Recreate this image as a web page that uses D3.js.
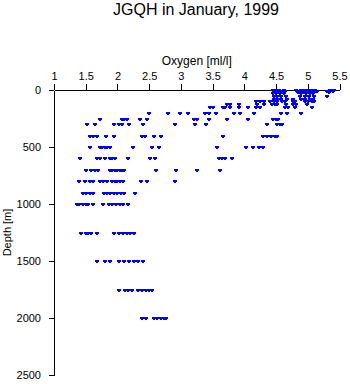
<!DOCTYPE html>
<html>
<head>
<meta charset="utf-8">
<script src="https://cdn.jsdelivr.net/npm/d3@7"></script>
<style>
  html, body { margin: 0; padding: 0; background: #fff; }
  svg { display: block; font-family: "Liberation Sans", Arial, sans-serif; }
</style>
</head>
<body>
<svg id="chart" width="350" height="384"></svg>
<script>
// ---- data ----
const title = "JGQH in January, 1999";
const xLabel = "Oxygen [ml/l]";
const yLabel = "Depth [m]";
const xTicks = [1, 1.5, 2, 2.5, 3, 3.5, 4, 4.5, 5, 5.5];
const yTicks = [0, 500, 1000, 1500, 2000, 2500];

const depthLevels = [0, 10, 20, 30, 50, 75, 100, 125, 150, 200, 250, 300, 400,
                     500, 600, 700, 800, 900, 1000, 1250, 1500, 1750, 2000];
const oxygenAtLevel = [
  [4.45, 4.50, 4.55, 4.62, 4.82, 4.90, 4.95, 5.00, 5.05, 5.12, 5.35, 5.42],
  [4.47, 4.52, 4.58, 4.64, 4.88, 4.93, 5.02, 5.08, 5.15, 5.30, 5.40],
  [4.46, 4.53, 4.60, 4.85, 4.92, 4.98, 5.05, 5.10, 5.33],
  [4.45, 4.50, 4.56, 4.62, 4.90, 4.97, 5.03, 5.09],
  [4.46, 4.52, 4.58, 4.66, 4.88, 4.95, 5.02, 5.10, 5.31],
  [4.47, 4.52, 4.58, 4.67, 4.76, 4.90, 4.96, 5.03, 5.08],
  [4.19, 4.24, 4.31, 4.41, 4.46, 4.52, 4.60, 4.64, 4.76, 4.80, 4.95, 5.00, 5.06, 5.10],
  [3.72, 3.77, 3.92, 4.20, 4.31, 4.44, 4.48, 4.52, 4.65, 4.77, 4.81, 4.98],
  [3.46, 3.50, 3.67, 3.70, 3.77, 3.92, 4.05, 4.19, 4.24, 4.64, 4.69, 4.80, 5.06],
  [2.49, 2.79, 2.99, 3.11, 3.38, 3.44, 3.55, 3.83, 3.93, 4.15, 4.58, 4.67, 4.90],
  [1.73, 2.07, 2.11, 2.15, 2.36, 2.47, 3.21, 3.25, 3.45, 3.73, 4.06, 4.45, 4.50, 4.53],
  [1.52, 1.64, 1.94, 2.03, 2.07, 2.19, 2.41, 2.91, 3.22, 3.40, 4.36, 4.52, 4.56, 4.59],
  [1.57, 1.61, 1.68, 1.82, 1.94, 2.38, 2.44, 2.58, 2.69, 3.66, 4.30, 4.36, 4.42, 4.48, 4.51],
  [1.57, 1.72, 1.76, 1.80, 1.83, 1.88, 2.24, 2.54, 2.65, 3.57, 4.03, 4.13, 4.23, 4.30],
  [1.41, 1.67, 1.73, 1.81, 1.88, 1.92, 1.96, 2.16, 2.51, 2.59, 3.60, 3.65, 3.70, 3.81],
  [1.51, 1.58, 1.64, 1.70, 1.88, 1.92, 1.96, 2.00, 2.04, 2.07, 2.11, 2.61, 2.92, 3.25, 3.61],
  [1.40, 1.49, 1.56, 1.62, 1.72, 1.77, 1.83, 1.92, 1.96, 2.00, 2.04, 2.08, 2.37, 2.46, 2.91],
  [1.45, 1.50, 1.56, 1.61, 1.79, 1.84, 1.89, 1.95, 2.00, 2.05, 2.10, 2.28],
  [1.36, 1.40, 1.45, 1.50, 1.54, 1.61, 1.77, 1.86, 1.92, 1.97, 2.04, 2.09, 2.17],
  [1.42, 1.50, 1.54, 1.58, 1.68, 1.94, 2.03, 2.09, 2.15, 2.20, 2.26],
  [1.68, 1.80, 1.88, 2.03, 2.11, 2.19, 2.26, 2.33, 2.40],
  [2.03, 2.12, 2.17, 2.23, 2.33, 2.39, 2.45, 2.50, 2.55],
  [2.39, 2.45, 2.58, 2.63, 2.68, 2.73, 2.76]
];

// ---- chart ----
const svg = d3.select("#chart");
const x = d3.scaleLinear().domain([1, 5.5]).range([54, 339.5]);
const y = d3.scaleLinear().domain([0, 2500]).range([90, 375]);

const points = [];
depthLevels.forEach((d, i) => oxygenAtLevel[i].forEach(o => points.push({depth: d, oxygen: o})));

// title
svg.append("text")
  .attr("x", 196).attr("y", 15)
  .attr("text-anchor", "middle")
  .attr("font-size", 16)
  .text(title);

// x axis on top
const gx = svg.append("g")
  .attr("transform", `translate(0,${y(0)})`)
  .call(d3.axisTop(x).tickValues(xTicks).tickSize(6).tickSizeOuter(0).tickPadding(4)
        .tickFormat(d3.format("~g")));
gx.selectAll("text").attr("font-size", 11).attr("font-family", "Liberation Sans, Arial, sans-serif").attr("fill", "#000");
gx.selectAll("line, path").attr("stroke", "#000").attr("stroke-width", 1).attr("shape-rendering", "crispEdges");

svg.append("text")
  .attr("x", (x(1) + x(5.5)) / 2).attr("y", 65)
  .attr("text-anchor", "middle")
  .attr("font-size", 12)
  .text(xLabel);

// y axis
const gy = svg.append("g")
  .attr("transform", `translate(${x(1)},0)`)
  .call(d3.axisLeft(y).tickValues(yTicks).tickSize(5).tickSizeOuter(0).tickPadding(8)
        .tickFormat(d3.format("d")));
gy.selectAll("text").attr("font-size", 11).attr("font-family", "Liberation Sans, Arial, sans-serif").attr("fill", "#000");
gy.selectAll("line, path").attr("stroke", "#000").attr("stroke-width", 1).attr("shape-rendering", "crispEdges");

svg.append("text")
  .attr("transform", `translate(11,${(y(0) + y(2500)) / 2}) rotate(-90)`)
  .attr("text-anchor", "middle")
  .attr("font-size", 11)
  .text(yLabel);

// points (small block marks)
const marks = svg.append("g").attr("fill", "#0000ff").attr("shape-rendering", "crispEdges");
marks.selectAll("path")
  .data(points)
  .join("path")
  .attr("d", p => {
    const cx = Math.round(x(p.oxygen)), cy = Math.round(y(p.depth));
    return `M${cx-2},${cy-1}h4v2h-4z M${cx-1},${cy+1}h2v1h-2z`;
  });
</script>
</body>
</html>
